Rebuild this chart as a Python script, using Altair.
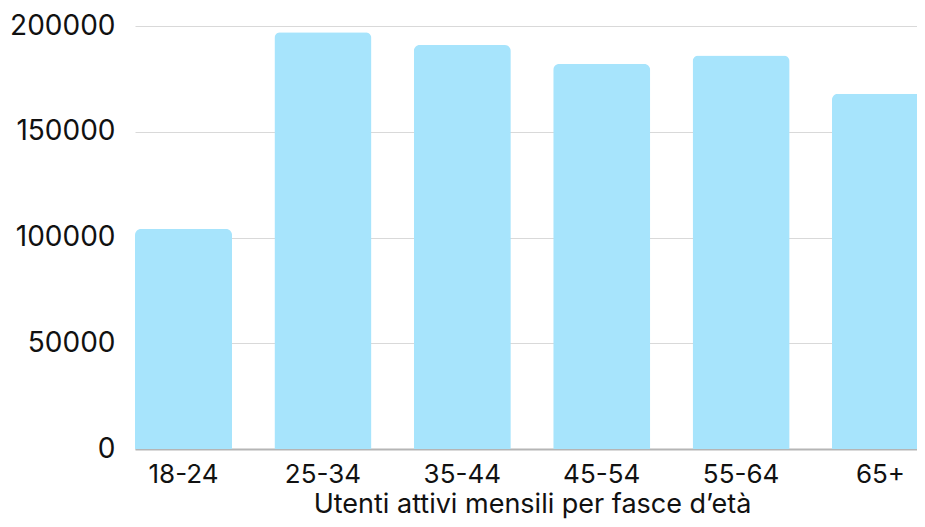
import altair as alt
import pandas as pd

categories = ["18-24", "25-34", "35-44", "45-54", "55-64", "65+"]
values = [104000, 197000, 191000, 182000, 186000, 168000]

df = pd.DataFrame({"fascia": categories, "utenti": values})

FONT = "Inter"

chart = alt.Chart(df).mark_bar(
    color="#A7E4FC",
    cornerRadiusTopLeft=6,
    cornerRadiusTopRight=6,
).encode(
    x=alt.X(
        "fascia:N",
        sort=categories,
        title="Utenti attivi mensili per fasce d\u2019et\u00e0",
        scale=alt.Scale(range=[0, 794], paddingInner=0.304, paddingOuter=0),
        axis=alt.Axis(
            labelAngle=0,
            labelFontSize=26,
            labelFont=FONT,
            labelColor="#111111",
            labelPadding=12,
            ticks=False,
            domainColor="#b5b5b5",
            domainWidth=2,
            titleFontSize=27,
            titleFont=FONT,
            titleFontWeight="normal",
            titleColor="#111111",
            titlePadding=4,
        ),
    ),
    y=alt.Y(
        "utenti:Q",
        scale=alt.Scale(domain=[0, 200000], nice=False),
        axis=alt.Axis(
            values=[0, 50000, 100000, 150000, 200000],
            format="d",
            title=None,
            labelFontSize=28,
            labelFont=FONT,
            labelColor="#111111",
            labelPadding=20,
            ticks=False,
            domain=False,
            gridColor="#d9d9d9",
            gridWidth=1,
        ),
    ),
).properties(
    width=782,
    height=423,
    autosize=alt.AutoSizeParams(type="none"),
    padding={"left": 127, "top": 18, "right": 0, "bottom": 70},
).configure_view(stroke=None)

chart.save("out.html", embed_options={"renderer": "svg", "actions": False})
